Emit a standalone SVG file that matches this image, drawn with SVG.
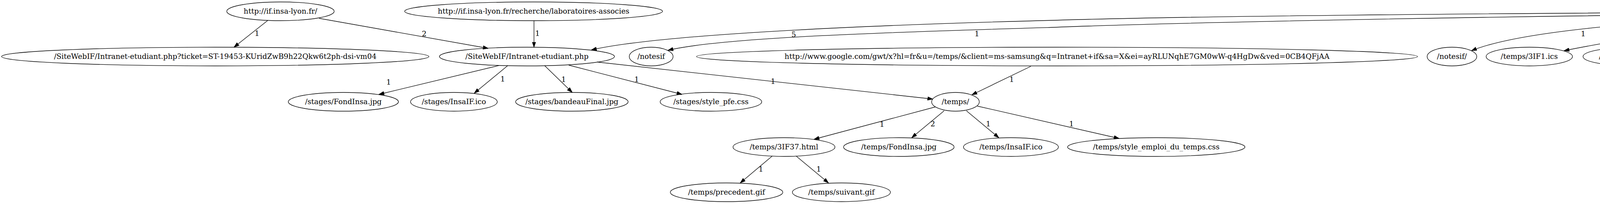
<svg xmlns="http://www.w3.org/2000/svg" width="7675" height="523" viewBox="0 0 7675 523">
<style>
.node ellipse{fill:none;stroke:#000;stroke-width:1.33}
text{font-family:"DejaVu Serif","Liberation Serif",serif;font-size:18.67px;text-anchor:middle;fill:#000}
.edges path{fill:none;stroke:#000;stroke-width:1.33;marker-end:url(#arr)}
</style>
<defs>
<marker id="arr" markerUnits="userSpaceOnUse" markerWidth="14" markerHeight="10" viewBox="0 0 14 10" refX="13.5" refY="5" orient="auto">
<path d="M0,0.4 L13.5,5 L0,9.6 z" fill="#000" stroke="#000" stroke-width="1"/>
</marker>
</defs>
<rect width="7675" height="523" fill="#fff"/>
<g class="edges" id="edges">
<path d="M686,52 L599,121"/>
<text x="658" y="92">1</text>
<path d="M817,47 L1250,124"/>
<text x="1086" y="93">2</text>
<path d="M1367,53 L1367,121"/>
<text x="1376" y="92">1</text>
<path d="M1277,168 L970,242"/>
<text x="995" y="217">1</text>
<path d="M1300,168 L1214,239"/>
<text x="1287" y="209">1</text>
<path d="M1394,168 L1465,237"/>
<text x="1443" y="210">1</text>
<path d="M1456,167 L1746,242"/>
<text x="1630" y="210">1</text>
<path d="M1528,159 L2388,254"/>
<text x="1979" y="215">1</text>
<path d="M2639,170 L2488,243"/>
<text x="2590" y="210">1</text>
<path d="M4533,31 C3800,34 3000,42 2700,52 C2300,62 1700,85 1514,128"/>
<text x="2032" y="95">5</text>
<path d="M4533,35 C3800,42 3000,58 2700,70 C2300,82 1850,95 1710,129"/>
<text x="2501" y="93">1</text>
<path d="M4535,37 C4250,55 3900,75 3767,130"/>
<text x="4053" y="93">1</text>
<path d="M4537,45 C4350,72 4150,100 4004,130"/>
<text x="4292" y="93">2</text>
<path d="M4537,40 L4256,125"/>
<text x="4404" y="93">1</text>
<path d="M4548,51 L4480,122"/>
<text x="4520" y="93">1</text>
<path d="M4591,51 L4663,122"/>
<text x="4640" y="93">1</text>
<path d="M4600,45 L4863,126"/>
<text x="4776" y="93">1</text>
<path d="M4604,33 C4850,55 5000,85 5050,135 C5080,170 5095,205 5098,237"/>
<text x="5081" y="151">1</text>
<path d="M4604,32 C4850,46 5040,52 5085,70 C5110,80 5128,100 5135,122"/>
<text x="5123" y="93">2</text>
<path d="M4604,30 C4900,55 5300,95 5585,123"/>
<text x="5337" y="93">1</text>
<path d="M4604,31 C5100,50 5900,90 6634,126"/>
<text x="5955" y="93">1</text>
<path d="M5140,169 L5114,237"/>
<text x="5134" y="208">1</text>
<path d="M2395,274 L2084,357"/>
<text x="2258" y="325">1</text>
<path d="M2417,284 L2334,353"/>
<text x="2388" y="324">2</text>
<path d="M2474,284 L2557,353"/>
<text x="2530" y="324">1</text>
<path d="M2502,272 L2865,355"/>
<text x="2743" y="324">1</text>
<path d="M1977,400 L1895,469"/>
<text x="1948" y="440">1</text>
<path d="M2038,400 L2121,469"/>
<text x="2096" y="440">1</text>
</g>
<g class="node" id="n_ifinsa"><ellipse cx="718" cy="29" rx="137.5" ry="24"/><text x="718" y="35">http://if.insa-lyon.fr/</text></g>
<g class="node" id="n_labo"><ellipse cx="1366" cy="29" rx="330" ry="24"/><text x="1366" y="35">http://if.insa-lyon.fr/recherche/laboratoires-associes</text></g>
<g class="node" id="n_root"><ellipse cx="4569" cy="29" rx="36" ry="24"/><text x="4569" y="35">-</text></g>
<g class="node" id="n_ticket1"><ellipse cx="551" cy="145" rx="547" ry="24"/><text x="551" y="151">/SiteWebIF/Intranet-etudiant.php?ticket=ST-19453-KUridZwB9h22Qkw6t2ph-dsi-vm04</text></g>
<g class="node" id="n_site"><ellipse cx="1349" cy="145" rx="224" ry="24"/><text x="1349" y="151">/SiteWebIF/Intranet-etudiant.php</text></g>
<g class="node" id="n_notesif"><ellipse cx="1667" cy="145" rx="56" ry="24"/><text x="1667" y="151">/notesif</text></g>
<g class="node" id="n_google"><ellipse cx="2706" cy="145" rx="923" ry="24"/><text x="2706" y="151">http://www.google.com/gwt/x?hl=fr&amp;u=/temps/&amp;client=ms-samsung&amp;q=Intranet+if&amp;sa=X&amp;ei=ayRLUNqhE7GM0wW-q4HgDw&amp;ved=0CB4QFjAA</text></g>
<g class="node" id="n_notesif2"><ellipse cx="3717" cy="145" rx="63.5" ry="24"/><text x="3717" y="151">/notesif/</text></g>
<g class="node" id="n_3IF1"><ellipse cx="3915" cy="145" rx="110.5" ry="24"/><text x="3915" y="151">/temps/3IF1.ics</text></g>
<g class="node" id="n_3IF44"><ellipse cx="4181" cy="145" rx="128.5" ry="24"/><text x="4181" y="151">/temps/3IF44.html</text></g>
<g class="node" id="n_4IF3"><ellipse cx="4444" cy="145" rx="110" ry="24"/><text x="4444" y="151">/temps/4IF3.ics</text></g>
<g class="node" id="n_4IF4"><ellipse cx="4689" cy="145" rx="109" ry="24"/><text x="4689" y="151">/temps/4IF4.ics</text></g>
<g class="node" id="n_GL"><ellipse cx="4924" cy="145" rx="96" ry="24"/><text x="4924" y="151">/temps/GL.ics</text></g>
<g class="node" id="n_slash"><ellipse cx="5149" cy="145" rx="36" ry="24"/><text x="5149" y="151">/</text></g>
<g class="node" id="n_ticket2"><ellipse cx="5790" cy="145" rx="583" ry="24"/><text x="5790" y="151">/SiteWebIF/Intranet-etudiant.php?ticket=ST-342400-BR7eop2OiRKoWEwXPEMQ-dsi-vm03</text></g>
<g class="node" id="n_cas"><ellipse cx="7034" cy="145" rx="636.5" ry="24"/><text x="7034" y="151">/cas/themes/insa/media/favicon.ico;jsessionid=33717D8FCDEA3ED485EAB3288E130DE3.dsi-vm04</text></g>
<g class="node" id="n_sFondInsa"><ellipse cx="879" cy="261" rx="141" ry="24"/><text x="879" y="267">/stages/FondInsa.jpg</text></g>
<g class="node" id="n_sInsaIF"><ellipse cx="1162" cy="261" rx="111" ry="24"/><text x="1162" y="267">/stages/InsaIF.ico</text></g>
<g class="node" id="n_bandeau"><ellipse cx="1464" cy="261" rx="144" ry="24"/><text x="1464" y="267">/stages/bandeauFinal.jpg</text></g>
<g class="node" id="n_stylepfe"><ellipse cx="1820" cy="261" rx="130" ry="24"/><text x="1820" y="267">/stages/style_pfe.css</text></g>
<g class="node" id="n_temps"><ellipse cx="2446" cy="261" rx="61" ry="24"/><text x="2446" y="267">/temps/</text></g>
<g class="node" id="n_favicon"><ellipse cx="5104" cy="261" rx="84" ry="24"/><text x="5104" y="267">/favicon.ico</text></g>
<g class="node" id="n_3IF37"><ellipse cx="2007" cy="377" rx="130.5" ry="24"/><text x="2007" y="383">/temps/3IF37.html</text></g>
<g class="node" id="n_tFondInsa"><ellipse cx="2301" cy="377" rx="141.5" ry="24"/><text x="2301" y="383">/temps/FondInsa.jpg</text></g>
<g class="node" id="n_tInsaIF"><ellipse cx="2588" cy="377" rx="121.5" ry="24"/><text x="2588" y="383">/temps/InsaIF.ico</text></g>
<g class="node" id="n_styleemploi"><ellipse cx="2960" cy="377" rx="227" ry="24"/><text x="2960" y="383">/temps/style_emploi_du_temps.css</text></g>
<g class="node" id="n_precedent"><ellipse cx="1860" cy="493" rx="144" ry="24"/><text x="1860" y="499">/temps/precedent.gif</text></g>
<g class="node" id="n_suivant"><ellipse cx="2154" cy="493" rx="125.5" ry="24"/><text x="2154" y="499">/temps/suivant.gif</text></g>
</svg>
